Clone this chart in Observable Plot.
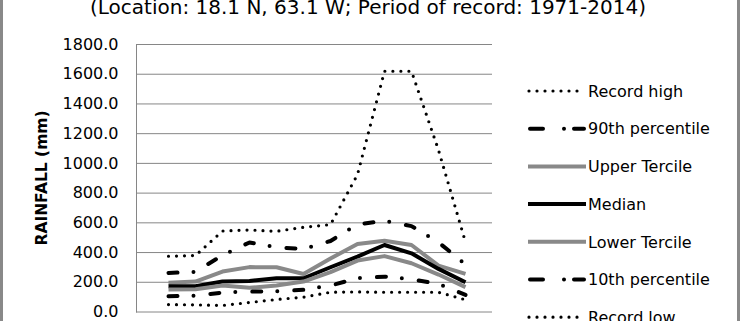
<!DOCTYPE html>
<html>
<head>
<meta charset="utf-8">
<script src="https://cdn.jsdelivr.net/npm/d3@7"></script>
<script src="https://cdn.jsdelivr.net/npm/@observablehq/plot@0.6"></script>
<style>
  html, body { margin: 0; padding: 0; background: #fff; }
  #wrap { position: relative; width: 740px; height: 321px; overflow: hidden; background: #fff; font-family: "DejaVu Sans", sans-serif; }
  #wrap > svg { position: absolute; left: 0; top: 0; }
  #border { position: absolute; left: 0; top: 0; width: 734px; height: 321px; border-left: 3px solid #898989; border-right: 3px solid #898989; pointer-events: none; }
</style>
</head>
<body>
<div id="wrap"><div id="border"></div></div>
<script>
const titleText = "(Location: 18.1 N, 63.1 W; Period of record: 1971-2014)";
const yLabel = "RAINFALL (mm)";
const months = ["Jan","Feb","Mar","Apr","May","Jun","Jul","Aug","Sep","Oct","Nov","Dec"];
const yTicks = [0, 200, 400, 600, 800, 1000, 1200, 1400, 1600, 1800];

const seriesNames = ["Record high","90th percentile","Upper Tercile","Median","Lower Tercile","10th percentile","Record low"];
const recordHigh = [375, 380, 545, 552, 543, 570, 588, 925, 1620, 1620, 1090, 470];
const p90        = [263, 270, 382, 468, 435, 425, 478, 590, 614, 578, 469, 320];
const upperTerc  = [196, 205, 272, 302, 301, 256, 360, 458, 480, 451, 312, 256];
const median     = [173, 173, 205, 209, 227, 227, 301, 373, 451, 395, 290, 200];
const lowerTerc  = [151, 153, 178, 163, 178, 205, 268, 346, 376, 328, 252, 167];
const p10        = [106, 110, 131, 137, 140, 149, 178, 227, 238, 220, 189, 115];
const recordLow  = [50, 48, 44, 64, 84, 100, 133, 135, 133, 133, 133, 82];

const seriesValues = [recordHigh, p90, upperTerc, median, lowerTerc, p10, recordLow];
const styles = {
  dot:     {stroke: "#000", strokeWidth: 3.2, strokeDasharray: "0 8", strokeLinecap: "round", legendDash: "0 8"},
  dashdot: {stroke: "#000", strokeWidth: 4, strokeDasharray: "9 16 0 17", strokeLinecap: "round", legendDash: "13 21 0 10 10"},
  grey:    {stroke: "#898989", strokeWidth: 4, strokeDasharray: null, strokeLinecap: "butt", legendDash: null},
  black:   {stroke: "#000", strokeWidth: 4, strokeDasharray: null, strokeLinecap: "butt", legendDash: null}
};
const seriesStyle = ["dot","dashdot","grey","black","grey","dashdot","dot"];

const data = seriesNames.flatMap((name, s) =>
  months.map((m, i) => ({series: name, month: m, value: seriesValues[s][i]})));

const fmt = d => d.toFixed(1);

const chart = Plot.plot({
  width: 740,
  height: 340,
  marginLeft: 136,
  marginRight: 248,
  marginTop: 44,
  marginBottom: 28.5,
  style: {fontFamily: "DejaVu Sans, sans-serif", background: "transparent", overflow: "visible"},
  x: {type: "point", domain: months, range: [151, 481], axis: null},
  y: {domain: [0, 1800]},
  marks: [
    Plot.ruleY(yTicks, {stroke: "#868686", strokeWidth: 1}),
    Plot.frame({anchor: "left", stroke: "#868686"}),
    Plot.axisY(yTicks, {tickSize: 0, tickPadding: 18, tickFormat: fmt, fontSize: 16, fill: "#000", label: null}),
    ...seriesNames.map((name, s) => {
      const st = styles[seriesStyle[s]];
      return Plot.line(data.filter(d => d.series === name), {
        x: "month", y: "value",
        stroke: st.stroke, strokeWidth: st.strokeWidth,
        strokeDasharray: st.strokeDasharray, strokeLinecap: st.strokeLinecap,
        strokeLinejoin: "round"
      });
    })
  ]
});
const wrap = document.getElementById("wrap");
wrap.insertBefore(chart, document.getElementById("border"));

// Overlay: title, y-axis label, legend
const ov = d3.select(wrap).append("svg")
  .attr("width", 740).attr("height", 321)
  .style("position", "absolute").style("left", 0).style("top", 0)
  .attr("font-family", "DejaVu Sans, sans-serif");

ov.append("text").attr("x", 368).attr("y", 14).attr("text-anchor", "middle")
  .attr("font-size", 20).attr("fill", "#000").text(titleText);

ov.append("text").attr("transform", "translate(47,178) rotate(-90)")
  .attr("text-anchor", "middle").attr("font-size", 15.5).attr("font-weight", "bold")
  .attr("fill", "#000").text(yLabel);

const legendY0 = 91, legendStep = 37.7;
seriesNames.forEach((name, s) => {
  const st = styles[seriesStyle[s]];
  const y = legendY0 + s * legendStep;
  const g = ov.append("g");
  const isDot = seriesStyle[s] === "dot";
  const isDash = seriesStyle[s] === "dashdot";
  g.append("line")
    .attr("x1", isDot ? 529 : isDash ? 530 : 528)
    .attr("x2", isDot ? 581 : isDash ? 584 : 586)
    .attr("y1", y).attr("y2", y)
    .attr("stroke", st.stroke).attr("stroke-width", st.strokeWidth)
    .attr("stroke-dasharray", st.legendDash)
    .attr("stroke-linecap", st.strokeLinecap);
  g.append("text").attr("x", 588).attr("y", y).attr("dy", "0.36em")
    .attr("font-size", 16).attr("fill", "#000").text(name);
});
</script>
</body>
</html>
